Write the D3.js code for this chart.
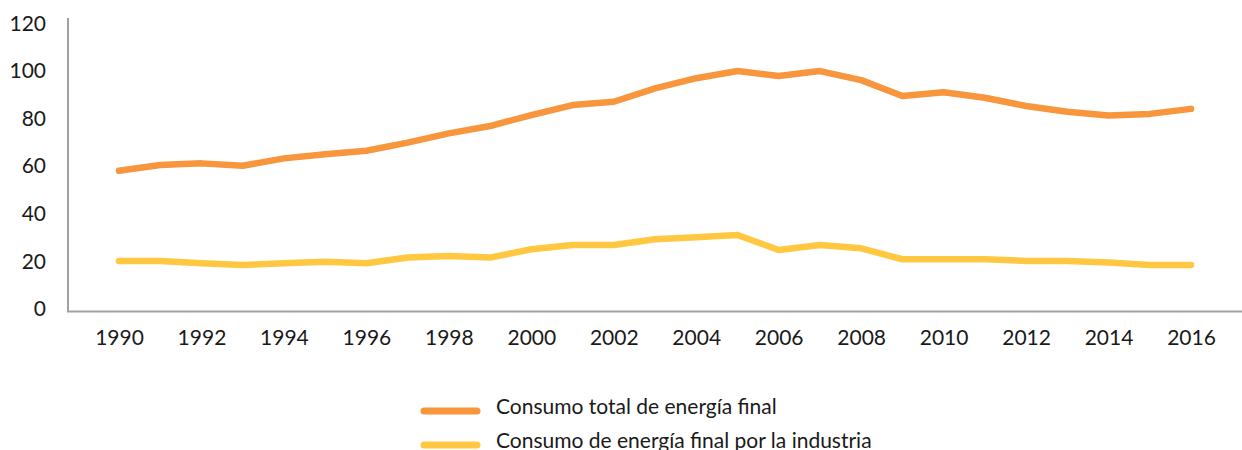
<!DOCTYPE html>
<html><head><meta charset="utf-8">
<script src="https://cdn.jsdelivr.net/npm/d3@7"></script>
<style>body{margin:0;background:#fff}svg{display:block}</style>
</head><body>
<svg id="c" width="1242" height="450"></svg>
<script>
const years = d3.range(1990, 2017);
const totalFinal = [57.9,60.3,61.0,60.0,63.1,64.8,66.3,69.7,73.6,76.7,81.3,85.5,86.9,92.5,96.8,99.8,97.7,99.8,96.0,89.3,90.9,88.6,85.1,82.7,81.1,81.8,83.9];
const industryFinal = [20.0,20.0,19.0,18.3,19.0,19.7,19.0,21.4,22.1,21.4,24.9,26.7,26.7,29.1,29.9,30.9,24.6,26.7,25.3,20.7,20.7,20.7,20.0,20.0,19.3,18.3,18.3];
const yTicks = [0,20,40,60,80,100,120];
const xTicks = d3.range(1990, 2017, 2);
const seriesNames = ["Consumo total de energía final","Consumo de energía final por la industria"];
const seriesColors = ["#F7963D","#FFC840"];

const svg = d3.select("#c");
const font = "Lato, 'Open Sans', sans-serif";
const x = d3.scalePoint().domain(years).range([119, 1191]);
const y = d3.scaleLinear().domain([0,120]).range([308.5, 23]);

// axes lines
svg.append("line").attr("x1",68).attr("x2",68).attr("y1",18).attr("y2",312)
  .attr("stroke","#A0A0A0").attr("stroke-width",2);
svg.append("line").attr("x1",67).attr("x2",1242).attr("y1",311.5).attr("y2",311.5)
  .attr("stroke","#A0A0A0").attr("stroke-width",2);

// y axis labels
const yAxis = d3.axisLeft(y).tickValues(yTicks).tickSize(0).tickPadding(0);
const gy = svg.append("g").attr("transform","translate(46,0)").call(yAxis);
gy.select(".domain").remove();
gy.selectAll("text").attr("font-family",font).attr("font-size",21).attr("fill","#1a1a1a").attr("dy","0.34em");

// x axis labels
const xAxis = d3.axisBottom(x).tickValues(xTicks).tickSize(0).tickPadding(0).tickFormat(d3.format("d"));
const gx = svg.append("g").attr("transform","translate(0,330)").call(xAxis);
gx.select(".domain").remove();
gx.selectAll("text").attr("font-family",font).attr("font-size",21).attr("fill","#1a1a1a").attr("dy","0.71em");

const line = d3.line().x((d,i)=>x(years[i])).y(d=>y(d));
[totalFinal, industryFinal].forEach((s,k)=>{
  svg.append("path").datum(s).attr("d",line).attr("fill","none")
    .attr("stroke",seriesColors[k]).attr("stroke-width",6.5)
    .attr("stroke-linecap","round").attr("stroke-linejoin","round");
});

// legend
const lg = svg.append("g");
seriesNames.forEach((n,k)=>{
  const yy = 411 + k*34;
  lg.append("line").attr("x1",424).attr("x2",477).attr("y1",yy).attr("y2",yy)
    .attr("stroke",seriesColors[k]).attr("stroke-width",7).attr("stroke-linecap","round");
  lg.append("text").attr("x",496).attr("y",yy+3).attr("font-family",font).attr("font-size",21)
    .attr("fill","#1a1a1a").text(n);
});
</script>
</body></html>
